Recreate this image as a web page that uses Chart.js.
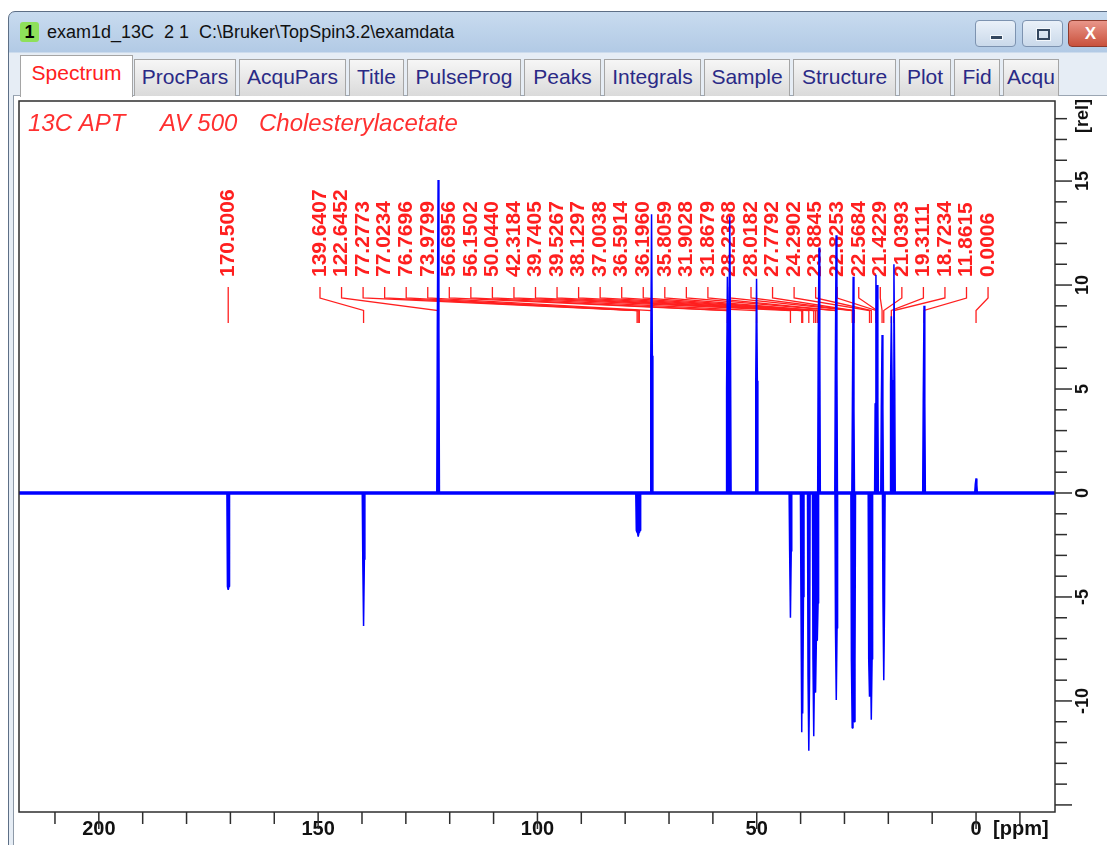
<!DOCTYPE html>
<html>
<head>
<meta charset="utf-8">
<title>exam1d_13C 2 1 - Spectrum</title>
<script src="https://cdn.jsdelivr.net/npm/chart.js@4.4.1/dist/chart.umd.min.js"></script>
<style>
  html, body { margin: 0; padding: 0; background: #fff; }
  body { width: 1107px; height: 845px; position: relative; overflow: hidden;
         font-family: "Liberation Sans", Arial, sans-serif; }
  .win { position: absolute; left: 8px; top: 11px; width: 1120px; height: 850px;
         border: 1px solid #5d6f86; border-radius: 7px 0 0 0; box-sizing: border-box;
         background: linear-gradient(#c8dbef 0, #b2cae5 40px, #e6edf5 41px, #e6edf5 100%); }
  .badge { position: absolute; left: 20px; top: 22px; width: 19px; height: 20px;
           background: #8ee05a; border-radius: 3px; font-weight: bold; font-size: 18px;
           text-align: center; line-height: 20px; color: #000; }
  .caption { position: absolute; left: 47px; top: 20px; line-height: 24px;
             font-size: 18px; color: #111; white-space: pre; }
  .btn { position: absolute; top: 20px; height: 27px; box-sizing: border-box;
         border: 1px solid #7d93b0; border-radius: 4px;
         background: linear-gradient(#eaf1f9, #cad9ea); }
  .btn.close { background: linear-gradient(#e9968a, #c9513c); border-color: #8e3a2c;
               color: #fff; font-weight: bold; font-size: 17px; text-align: center; line-height: 25px; }
  .glyph-min { position: absolute; left: 14px; top: 14px; width: 11px; height: 3px;
               background: #34475f; border: 1px solid #f4f8fc; }
  .glyph-max { position: absolute; left: 14px; top: 8px; width: 9px; height: 7px;
               border: 2px solid #34475f; box-shadow: 0 0 0 1px #f4f8fc; }
  .panel { position: absolute; left: 13px; top: 95px; width: 1100px; height: 760px;
           background: #fff; border-top: 1px solid #9ba6b3; border-left: 1px solid #8d99a7; }
  .tab { position: absolute; top: 59px; height: 37px; box-sizing: border-box;
         border: 1px solid #a5a5a5; border-bottom: none;
         background: linear-gradient(#f6f6f6, #dadada);
         font-size: 21px; line-height: 34px; text-align: center; color: #2a2a86; }
  .tab.active { top: 55px; height: 42px; background: #fff; color: #ff2020; z-index: 2; }
  #plot { position: absolute; left: 0; top: 97px; width: 1107px; height: 748px; z-index: 3; }
</style>
</head>
<body>
<div class="win"></div>
<div class="badge">1</div>
<div class="caption">exam1d_13C  2 1  C:\Bruker\TopSpin3.2\examdata</div>
<div class="btn" style="left:975px;width:41px"><div class="glyph-min"></div></div>
<div class="btn" style="left:1022px;width:41px"><div class="glyph-max"></div></div>
<div class="btn close" style="left:1068px;width:45px">X</div>

<div class="panel"></div>
<div class="tab active" style="left:20px;width:113px">Spectrum</div>
<div class="tab" style="left:134px;width:102px">ProcPars</div>
<div class="tab" style="left:239px;width:107px">AcquPars</div>
<div class="tab" style="left:349px;width:55px">Title</div>
<div class="tab" style="left:407px;width:114px">PulseProg</div>
<div class="tab" style="left:524px;width:77px">Peaks</div>
<div class="tab" style="left:604px;width:97px">Integrals</div>
<div class="tab" style="left:704px;width:86px">Sample</div>
<div class="tab" style="left:793px;width:103px">Structure</div>
<div class="tab" style="left:899px;width:52px">Plot</div>
<div class="tab" style="left:954px;width:46px">Fid</div>
<div class="tab" style="left:1003px;width:56px">Acqu</div>

<div id="plot"><canvas id="spec" width="1107" height="748" style="width:1107px;height:748px"></canvas></div>

<script>
// ── spectrum data (ppm, relative intensity) ─────────────────────
const PEAK_PPM = [170.5006, 139.6407, 122.6452, 77.2773, 77.0234, 76.7696, 73.9799,
  56.6956, 56.1502, 50.0440, 42.3184, 39.7405, 39.5267, 38.1297, 37.0038, 36.5914,
  36.1960, 35.8059, 31.9028, 31.8679, 28.2368, 28.0182, 27.7792, 24.2902, 23.8845,
  22.8253, 22.5684, 21.4229, 21.0393, 19.3111, 18.7234, 11.8615, 0.0006];

// peak tip heights (APT: CH/CH3 up, C/CH2 down)
const PEAK_TIP = [-4.66, -6.4, 15.05, -1.9, -2.1, -1.9, 13.4,
  10.4, 13.3, 10.3, -6.0, -11.5, -10.6, -12.4, -11.7, -9.6,
  -7.1, 11.8, 12.4, -9.95, -11.3, 10.4, -11.0, -9.8, -10.9,
  10.5, 10.0, 7.6, -9.0, 8.5, 11.0, 9.0, 0.7];

// height of the broad lower part of each peak
const PEAK_BODY = [-4.5, -3.2, 7.9, -1.8, -1.9, -1.8, 6.6,
  5.0, 6.5, 5.4, -2.8, -5.0, -5.0, -8.8, -8.0, -7.1,
  -5.3, 7.2, 6.1, -6.5, -8.1, 4.0, -8.1, -8.0, -8.0,
  4.3, 4.3, 4.15, -5.2, 5.2, 5.4, 4.4, 0.4];

const X_RANGE = [218.2, -18.0];          // ppm, left -> right
const Y_RANGE = [-15.34, 18.85];         // rel
const X_LABELED = [200, 150, 100, 50, 0];
const Y_LABELED = [15, 10, 5, 0, -5, -10];

const TITLE_PARTS = ['13C APT', 'AV 500', 'Cholesterylacetate'];

// ── drawing constants ───────────────────────────────────────────
const FONT = '"Liberation Sans", Arial, sans-serif';
const RED  = '#ff1f1f';
const BLUE = '#0000ff';
const SHAPE_DX = [0.3, 0.18, 0, -0.18, -0.3];   // peak outline, ppm offsets
const LABEL_X0 = 320, LABEL_PITCH = 21.55;      // spread label positions (px)
const LABEL_BASE = 180;                         // bottom of label text
const STUB_TOP = 190, STUB_BOT = 201, DIAG_BOT = 213.5, MARK_BOT = 226;

function spectrumPoints() {
  const pts = [];
  PEAK_PPM.forEach((p, i) => {
    const ys = [0, PEAK_BODY[i], PEAK_TIP[i], PEAK_BODY[i], 0];
    SHAPE_DX.forEach((dx, k) => pts.push({ x: p + dx, y: ys[k] }));
  });
  return pts;
}

function line(ctx, x1, y1, x2, y2) {
  ctx.beginPath(); ctx.moveTo(x1, y1); ctx.lineTo(x2, y2); ctx.stroke();
}

// ── peak picking labels, under the spectrum ─────────────────────
const peakLabels = {
  id: 'peakLabels',
  beforeDatasetsDraw(chart) {
    const { ctx, scales: { x } } = chart;
    ctx.save();
    ctx.strokeStyle = RED;
    ctx.fillStyle = RED;
    ctx.lineWidth = 1.3;
    ctx.font = `bold 21px ${FONT}`;
    ctx.textAlign = 'left';
    ctx.textBaseline = 'middle';

    PEAK_PPM.forEach((p, i) => {
      const px = x.getPixelForValue(p);
      const lx = i === 0 ? px : LABEL_X0 + (i - 1) * LABEL_PITCH;
      if (i === 0) {
        line(ctx, px, STUB_TOP, px, MARK_BOT);
      } else {
        ctx.beginPath();
        ctx.moveTo(lx, STUB_TOP);
        ctx.lineTo(lx, STUB_BOT);
        ctx.lineTo(px, DIAG_BOT);
        ctx.lineTo(px, MARK_BOT);
        ctx.stroke();
      }
      ctx.save();
      ctx.translate(lx, LABEL_BASE);
      ctx.rotate(-Math.PI / 2);
      ctx.fillText(p.toFixed(4), 0, 0);
      ctx.restore();
    });

    // experiment title
    ctx.font = `italic 24px ${FONT}`;
    ctx.textBaseline = 'alphabetic';
    ctx.fillStyle = '#ff3030';
    [28, 160, 259].forEach((tx, k) => ctx.fillText(TITLE_PARTS[k], tx, 34));
    ctx.restore();
  },
};

// ── frame and outward tick marks ────────────────────────────────
const frameTicks = {
  id: 'frameTicks',
  afterDraw(chart) {
    const { ctx, chartArea: a, scales: { x, y } } = chart;
    ctx.save();
    ctx.strokeStyle = '#2e2e2e';
    ctx.lineWidth = 1.5;
    ctx.strokeRect(a.left, a.top, a.right - a.left, a.bottom - a.top);

    x.ticks.forEach(t => {
      const px = x.getPixelForValue(t.value);
      line(ctx, px, a.bottom, px, a.bottom + (t.value % 50 === 0 ? 17 : 12));
    });
    y.ticks.forEach(t => {
      const py = y.getPixelForValue(t.value);
      line(ctx, a.right, py, a.right + (t.value % 5 === 0 ? 17 : 12), py);
    });

    ctx.fillStyle = '#111';
    ctx.font = `bold 20px ${FONT}`;
    ctx.textAlign = 'left';
    ctx.textBaseline = 'middle';
    ctx.fillText('[ppm]', x.getPixelForValue(0) + 17, 732);

    ctx.font = `bold 18px ${FONT}`;
    ctx.translate(1083, 19);
    ctx.rotate(-Math.PI / 2);
    ctx.textAlign = 'center';
    ctx.fillText('[rel]', 0, 0);
    ctx.restore();
  },
};

new Chart(document.getElementById('spec'), {
  type: 'line',
  data: {
    datasets: [
      {
        label: 'baseline',
        data: [{ x: X_RANGE[0], y: 0 }, { x: X_RANGE[1], y: 0 }],
        borderColor: BLUE,
        borderWidth: 3.5,
        pointRadius: 0,
      },
      {
        label: 'spectrum',
        data: spectrumPoints(),
        borderColor: BLUE,
        backgroundColor: BLUE,
        fill: 'origin',
        borderWidth: 1.5,
        borderJoinStyle: 'bevel',
        pointRadius: 0,
        tension: 0,
      },
    ],
  },
  options: {
    responsive: false,
    devicePixelRatio: 1,
    animation: false,
    layout: { padding: { left: 19, top: 4, right: 0, bottom: 0 } },
    plugins: { legend: { display: false }, tooltip: { enabled: false } },
    scales: {
      x: {
        type: 'linear',
        position: 'bottom',
        reverse: true,
        min: X_RANGE[1],
        max: X_RANGE[0],
        grid: { drawOnChartArea: false, drawTicks: false },
        border: { display: false },
        ticks: {
          stepSize: 10,
          autoSkip: false,
          includeBounds: false,
          maxRotation: 0,
          padding: 5,
          color: '#111',
          font: { family: FONT, size: 20, weight: 'bold', lineHeight: 1.2 },
          callback: v => X_LABELED.includes(v) ? String(v) : '',
        },
        afterFit(s) { s.height = 33; s.paddingLeft = 0; s.paddingRight = 0; },
      },
      y: {
        type: 'linear',
        position: 'right',
        min: Y_RANGE[0],
        max: Y_RANGE[1],
        grid: { drawOnChartArea: false, drawTicks: false },
        border: { display: false },
        ticks: {
          stepSize: 1,
          autoSkip: false,
          includeBounds: false,
          minRotation: 90,
          maxRotation: 90,
          crossAlign: 'center',
          padding: 15,
          color: '#111',
          font: { family: FONT, size: 18, weight: 'bold' },
          callback: v => Y_LABELED.includes(v) ? String(v) : '',
        },
        afterFit(s) { s.width = 52; s.paddingTop = 0; s.paddingBottom = 0; },
      },
    },
  },
  plugins: [peakLabels, frameTicks],
});
</script>
</body>
</html>
